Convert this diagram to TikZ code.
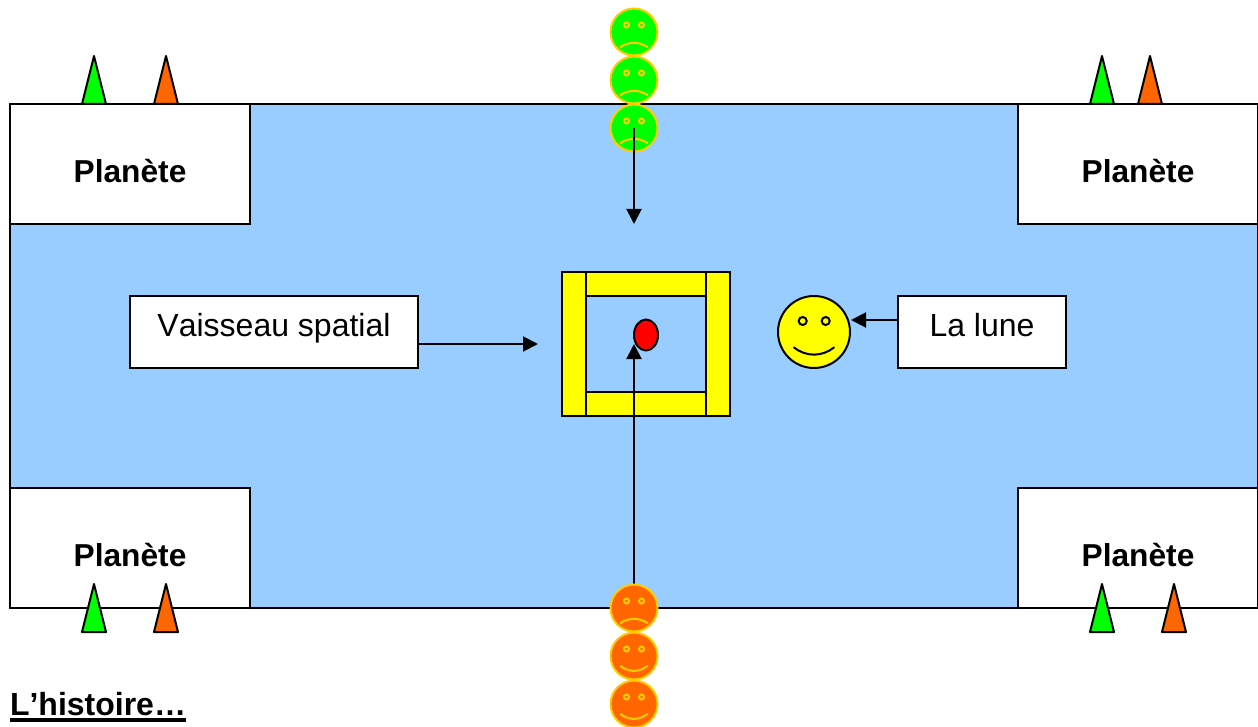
\documentclass[tikz,border=0pt]{standalone}
\usepackage{fontspec}
\setmainfont[Kerning=Off]{Liberation Sans}
\usetikzlibrary{arrows.meta,shapes.geometric}
\definecolor{sky}{HTML}{99CCFF}
\definecolor{green1}{HTML}{00FF00}
\definecolor{orange1}{HTML}{FF6600}
\definecolor{amber}{HTML}{FFCC00}
\definecolor{yellow1}{HTML}{FFFF00}
\definecolor{red1}{HTML}{FF0000}
\tikzset{
  x=1pt,y=-1pt,
  every node/.style={outer sep=0pt},
  stroke/.style={draw=black,line width=2pt},
  planet/.style={stroke,fill=white,rectangle,inner sep=0pt,minimum width=240pt,minimum height=120pt,
    font=\fontsize{31.7}{38}\bfseries\selectfont,text height=78.5pt,text depth=41.5pt},
  boxlabel/.style={stroke,fill=white,rectangle,inner sep=0pt,minimum height=72pt,
    font=\fontsize{32}{38}\selectfont,text height=40pt,text depth=32pt},
  arrowline/.style={stroke,-{Triangle[length=15pt,width=15pt]}},
  bar/.style={stroke,fill=yellow1,rectangle,inner sep=0pt},
  cone/.style={stroke,line join=round},
}
% \myface{name}{x}{y}{fill}{mouth control offset}{mouth end offset}
\newcommand{\myface}[6]{%
  \node[circle,draw=amber,line width=2pt,fill=#4,minimum size=47pt,inner sep=0pt] (#1) at (#2,#3) {};
  \draw[amber,line width=2pt,fill=#4] (#2-7.5,#3-7) circle (2.5) (#2+7.5,#3-7) circle (2.5);
  \draw[amber,line width=2pt,line cap=round] (#2-13.5,#3+#6) .. controls (#2-5,#3+#5) and (#2+5,#3+#5) .. (#2+13.5,#3+#6);
}
\newcommand{\mycone}[4]{%
  \draw[cone,fill=#4] (#1-12,#3) -- (#1,#2) -- (#1+12,#3) -- cycle;
}
\begin{document}
\begin{tikzpicture}
\useasboundingbox (0,0) rectangle (1258,727);
\clip (0,0) rectangle (1258,727);
\node[stroke,fill=sky,rectangle,inner sep=0pt,minimum width=1248pt,minimum height=504pt] (space) at (634,356) {};
\node[planet] (p1) at (130,164) {Planète};
\node[planet] (p2) at (1138,164) {Planète};
\node[planet] (p3) at (130,548) {Planète};
\node[planet] (p4) at (1138,548) {Planète};
% cones
\mycone{94}{56}{104}{green1}
\mycone{166}{56}{104}{orange1}
\mycone{1102}{56}{104}{green1}
\mycone{1150}{56}{104}{orange1}
\mycone{94}{584}{632}{green1}
\mycone{166}{584}{632}{orange1}
\mycone{1102}{584}{632}{green1}
\mycone{1174}{584}{632}{orange1}
% frame
\node[bar,minimum width=120pt,minimum height=24pt] (ftop) at (646,284) {};
\node[bar,minimum width=120pt,minimum height=24pt] (fbot) at (646,404) {};
\node[bar,minimum width=24pt,minimum height=144pt] (fleft) at (574,344) {};
\node[bar,minimum width=24pt,minimum height=144pt] (fright) at (718,344) {};
\node[stroke,ellipse,fill=red1,inner sep=0pt,minimum width=24pt,minimum height=31pt] (dot) at (646,335) {};
% moon
\node[stroke,circle,fill=yellow1,inner sep=0pt,minimum size=72pt] (moon) at (814,332) {};
\draw[stroke] (802.7,321) circle (4) (825.7,321) circle (4);
\draw[stroke,line cap=round] (794,347.5) .. controls (806,357) and (822,357) .. (834,347.5);
% labels
\node[boxlabel,minimum width=288pt] (ship) at (274,332) {Vaisseau spatial};
\node[boxlabel,minimum width=168pt] (lune) at (982,332) {La lune};
% free ends
\coordinate (shipEnd) at (538,344);
\coordinate (topEnd) at (634,224);
\coordinate (botEnd) at (634,344);
\coordinate (shipStart) at (418,344);
\coordinate (luneStart) at (898,320);
\coordinate (moonEnd) at (851,320);
\coordinate (botStart) at (634,608);
% arrows
\draw[arrowline] (shipStart) -- (shipEnd);
\draw[arrowline] (luneStart) -- (moonEnd);
\draw[arrowline] (botStart) -- (botEnd);
% faces
\myface{g1}{634}{32}{green1}{9.5}{15}
\myface{g2}{634}{80}{green1}{9.5}{15}
\myface{g3}{634}{128}{green1}{9.5}{15}
\myface{o1}{634}{608}{orange1}{9.5}{15}
\myface{o2}{634}{656}{orange1}{16.5}{10}
\myface{o3}{634}{704}{orange1}{16.5}{10}
\draw[arrowline] (g3.center) -- (topEnd);
\node[anchor=base west,inner sep=0pt,font=\fontsize{32}{38}\bfseries\selectfont] (hist) at (10,715) {L’histoire…};
\draw[line width=3.5pt] ([yshift=-5pt]hist.base west) -- ([yshift=-5pt]hist.base east);
\end{tikzpicture}
\end{document}
